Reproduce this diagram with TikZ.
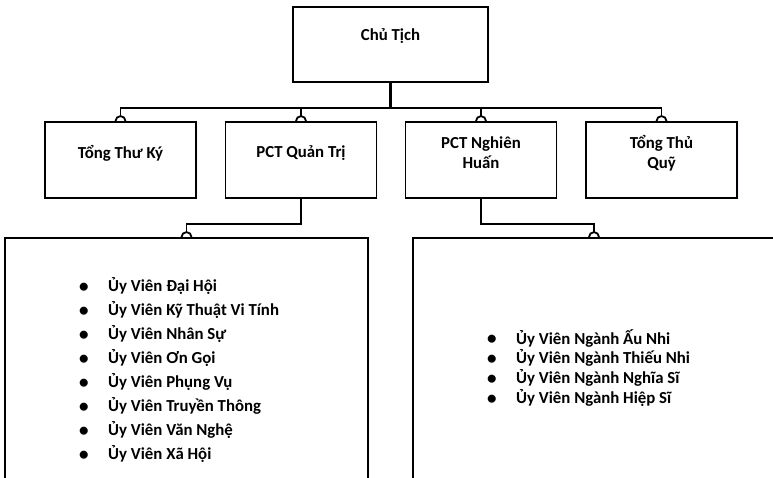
\documentclass[tikz,border=0pt]{standalone}
\usepackage{fontspec}
\setmainfont{Carlito}
\usetikzlibrary{shadows}
\tikzset{
box/.style = {rectangle, draw = black, fill = white, line width = 1.8pt, minimum width = 151pt, minimum height = 76pt, drop shadow = {opacity = 0.12, fill = blue!30, shadow xshift = 1.5pt, shadow yshift = -1.5pt}},
box text/.style = {align = center, font = \bfseries\fontsize{16.8}{20}\selectfont},
list item/.style = {anchor = west, inner sep = 0pt, font = \bfseries\fontsize{16.8}{20}\selectfont},
link/.style = {line width = 1.8pt},
}
\tikzset{
pics/hop/.style = {
        code = {
        \draw[link] (-5pt, 0pt) arc[start angle = 180, end angle = 0, radius = 5pt];
        }
    }
}
\newcommand{\bul}{\makebox[29pt][l]{\raisebox{-0.5pt}{\fontsize{19}{20}\selectfont\textbullet}}}

\begin{document}
\begin{tikzpicture}[x = 1pt, y = -1pt]
    \useasboundingbox (0, 0) rectangle (773, 478);
    \clip (0, 0) rectangle (773, 478);
    % top level
    \node[box, minimum width = 195pt, minimum height = 75pt] (chutich) at (390.5, 44.5) {};
    \node[box text] (chutich-t) at ([yshift = 8pt]chutich.center) {Chủ Tịch};
    % second level
    \node[box] (tongthuky) at (120.5, 160) {};
    \node[box] (pctqt) at (301, 160) {};
    \node[box] (pctnh) at (481, 160) {};
    \node[box] (tongthuquy) at (661.5, 160) {};
    \node[box text] (tongthuky-t) at ([yshift = 7pt]tongthuky.center) {Tổng Thư Ký};
    \node[box text] (pctqt-t) at ([yshift = 7pt]pctqt.center) {PCT Quản Trị};
    \node[box text] (pctnh-t) at ([yshift = 7pt]pctnh.center) {PCT Nghiên\\Huấn};
    \node[box text] (tongthuquy-t) at ([yshift = 7pt]tongthuquy.center) {Tổng Thủ\\Quỹ};
    % third level
    \node[box, minimum width = 363pt, minimum height = 300pt] (uvqt) at (186.5, 388) {};
    \node[box, minimum width = 362pt, minimum height = 300pt] (uvnh) at (594, 388) {};
    \node[list item] (qt1) at (79, 286) {\bul Ủy Viên Đại Hội};
    \node[list item] (qt2) at (79, 310) {\bul Ủy Viên Kỹ Thuật Vi Tính};
    \node[list item] (qt3) at (79, 334) {\bul Ủy Viên Nhân Sự};
    \node[list item] (qt4) at (79, 358) {\bul Ủy Viên Ơn Gọi};
    \node[list item] (qt5) at (79, 382) {\bul Ủy Viên Phụng Vụ};
    \node[list item] (qt6) at (79, 406) {\bul Ủy Viên Truyền Thông};
    \node[list item] (qt7) at (79, 430) {\bul Ủy Viên Văn Nghệ};
    \node[list item] (qt8) at (79, 454) {\bul Ủy Viên Xã Hội};
    \node[list item] (nh1) at (487, 338) {\bul Ủy Viên Ngành Ấu Nhi};
    \node[list item] (nh2) at (487, 358) {\bul Ủy Viên Ngành Thiếu Nhi};
    \node[list item] (nh3) at (487, 378) {\bul Ủy Viên Ngành Nghĩa Sĩ};
    \node[list item] (nh4) at (487, 398) {\bul Ủy Viên Ngành Hiệp Sĩ};
    % connectors
    \coordinate (bus) at (390.5, 108);
    \draw[link, line width = 2.6pt] (chutich.south) -- (bus);
    \draw[link] ([yshift = 5pt]tongthuky.north) |- (bus);
    \draw[link] ([yshift = 5pt]pctqt.north) |- (bus);
    \draw[link] ([yshift = 5pt]pctnh.north) |- (bus);
    \draw[link] ([yshift = 5pt]tongthuquy.north) |- (bus);
    \draw[link] (pctqt.south) -- ++(0, 25) -| ([yshift = 5pt]uvqt.north);
    \draw[link] (pctnh.south) -- ++(0, 25) -| ([yshift = 5pt]uvnh.north);
    \pic at (tongthuky.north) {hop};
    \pic at (pctqt.north) {hop};
    \pic at (pctnh.north) {hop};
    \pic at (tongthuquy.north) {hop};
    \pic at (uvqt.north) {hop};
    \pic at (uvnh.north) {hop};
\end{tikzpicture}
\end{document}
